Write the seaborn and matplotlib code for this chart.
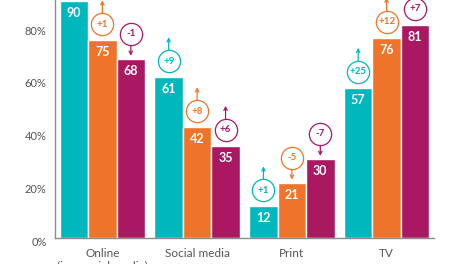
import matplotlib
matplotlib.use("Agg")
import matplotlib.pyplot as plt
import matplotlib.transforms as mtransforms
import seaborn as sns
import pandas as pd

# ---- data ----
categories = ["Online\n(inc. social media)", "Social media", "Print", "TV"]
series_names = ["Group A", "Group B", "Group C"]
values_a = [90, 61, 12, 57]
values_b = [75, 42, 21, 76]
values_c = [68, 35, 30, 81]
changes_a = [None, 9, 1, 25]
changes_b = [1, 8, -5, 12]
changes_c = [-1, 6, -7, 7]
y_ticks = [0, 20, 40, 60, 80]
y_tick_labels = ["0%", "20%", "40%", "60%", "80%"]

colors = ["#00B7BE", "#F0732A", "#AA1862"]

rows = []
for s, vals in zip(series_names, [values_a, values_b, values_c]):
    for c, v in zip(categories, vals):
        rows.append({"category": c, "series": s, "value": v})
df = pd.DataFrame(rows)

sns.set_style("white")
plt.rcParams["font.family"] = ["Lato", "DejaVu Sans"]

fig = plt.figure(figsize=(4.68, 2.64), dpi=100)
ax = fig.add_axes([55 / 468, 26 / 264, 379 / 468, 238 / 264])

sns.barplot(data=df, x="category", y="value", hue="series", palette=colors,
            width=0.9, saturation=1, ax=ax, legend=False, errorbar=None)

ax.set_ylim(0, 90.3)
ax.set_xlim(-0.5, 3.5)
ax.set_xlabel("")
ax.set_ylabel("")
ax.set_yticks(y_ticks)
ax.set_yticklabels(y_tick_labels)
ax.tick_params(axis="both", length=0)
ax.tick_params(axis="y", pad=6, labelsize=8, labelcolor="#555555")
ax.tick_params(axis="x", pad=7, labelsize=8.5, labelcolor="#555555")
for lbl in ax.get_yticklabels():
    lbl.set_transform(lbl.get_transform() + mtransforms.ScaledTranslation(0, -3 / 100, fig.dpi_scale_trans))

for side in ["top", "right"]:
    ax.spines[side].set_visible(False)
for side in ["left", "bottom"]:
    ax.spines[side].set_color("#8c8c8c")
    ax.spines[side].set_linewidth(1.0)


def off(dy):
    return mtransforms.offset_copy(ax.transData, fig=fig, x=0, y=dy, units="dots")


all_changes = [changes_a, changes_b, changes_c]
for cont, col, changes in zip(ax.containers, colors, all_changes):
    for bar, ch in zip(cont.patches, changes):
        x = bar.get_x() + bar.get_width() / 2
        h = bar.get_height()
        ax.annotate(f"{h:.0f}", xy=(x, h), xytext=(0, -12), textcoords="offset pixels",
                    ha="center", va="center", color="white", fontweight="bold",
                    fontsize=9, annotation_clip=False)
        if ch is None:
            continue
        if ch >= 0:
            cy = 16
            a0, a1 = cy + 11, cy + 24
        else:
            cy = 25
            a0, a1 = cy - 11, 3
        ax.plot([x], [h], marker="o", ms=16, mfc="white", mec=col, mew=0.9,
                transform=off(cy), clip_on=False, zorder=5)
        txt = f"+{ch}" if ch > 0 else f"{ch}"
        ax.annotate(txt, xy=(x, h), xytext=(0, cy), textcoords="offset pixels",
                    ha="center", va="center", color=col, fontweight="bold",
                    fontsize=7, annotation_clip=False, zorder=6)
        ax.annotate("", xy=(x, h), xycoords=off(a1), xytext=(x, h), textcoords=off(a0),
                    arrowprops=dict(arrowstyle="->", color=col, lw=0.9,
                                    shrinkA=0, shrinkB=0, mutation_scale=6),
                    annotation_clip=False)

fig.savefig("out.png", dpi=100)
